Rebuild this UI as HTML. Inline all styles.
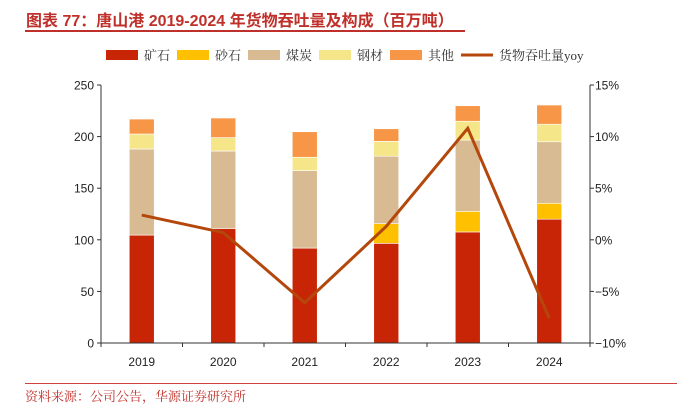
<!DOCTYPE html>
<html><head><meta charset="utf-8">
<style>
html,body{margin:0;padding:0;background:#fff;}
body{width:677px;height:406px;overflow:hidden;position:relative;font-family:"Liberation Sans","Noto Sans CJK SC",sans-serif;}
#title{position:absolute;left:26px;top:7px;font-size:16px;font-weight:bold;color:#C0302A;white-space:nowrap;font-family:"Liberation Sans","Noto Sans CJK SC",sans-serif;}
#tline{position:absolute;left:25px;top:30px;width:440px;height:2px;background:#C0302A;}
#fline{position:absolute;left:25px;top:383px;width:652px;height:1px;background:#D04040;}
#foot{position:absolute;left:25px;top:386px;font-size:13px;color:#C0302A;font-family:"Liberation Serif","Noto Serif CJK SC",serif;}
</style></head><body>
<div id="title">图表 77：唐山港 2019-2024 年货物吞吐量及构成（百万吨）</div>
<div id="tline"></div>
<svg id="chart" width="677" height="406" style="position:absolute;left:0;top:0"></svg>
<div id="fline"></div>
<div id="foot">资料来源：公司公告，华源证券研究所</div>
<script>
const categories=["2019","2020","2021","2022","2023","2024"];
const ore=[104.6,111,92,96.6,107.6,120];
const sand=[0,0,0,19,20,15.4];
const coal=[83.4,75,75,65.4,69,59.6];
const steel=[14.5,13,13,14.4,18.3,17];
const other=[14.5,19,24.7,12.2,15,18.6];
const yoy=[2.4,0.7,-6.1,1.3,10.8,-7.6];
const leftTicks=[0,50,100,150,200,250];
const rightTicks=[-10,-5,0,5,10,15];
const seriesNames=["矿石","砂石","煤炭","钢材","其他"];
const colors=["#C82506","#FFC000","#D9BB93","#F5E68A","#F79646"];
const lineColor="#B4470C";
const NS="http://www.w3.org/2000/svg";
const svg=document.getElementById('chart');
const X0=101,X1=590,Y0=343,Y1=85;
const bw=(X1-X0)/categories.length;
function xC(i){return X0+bw*(i+0.5);}
function yL(v){return Y0-(v-0)/(250-0)*(Y0-Y1);}
function yR(v){return Y0-(v+10)/(25)*(Y0-Y1);}
function mk(t,a){const e=document.createElementNS(NS,t);for(const k in a)e.setAttribute(k,a[k]);svg.appendChild(e);return e;}
const stacks=[ore,sand,coal,steel,other];
categories.forEach((c,i)=>{
  let base=0;
  stacks.forEach((s,k)=>{
    const v=s[i];if(v<=0)return;
    const r=mk('rect',{x:xC(i)-12.5,y:yL(base+v),width:25,height:yL(base)-yL(base+v),fill:colors[k],stroke:'#fff','stroke-width':0.6});
    
    
    base+=v;
  });
});
let ax=mk('line',{x1:X0,y1:Y1,x2:X0,y2:Y0,stroke:'#333','stroke-width':1});

ax=mk('line',{x1:X1,y1:Y1,x2:X1,y2:Y0,stroke:'#333','stroke-width':1});

ax=mk('line',{x1:X0-4,y1:Y0,x2:X1+4,y2:Y0,stroke:'#333','stroke-width':1});

leftTicks.forEach(t=>{
  mk('line',{x1:X0-4,y1:yL(t),x2:X0,y2:yL(t),stroke:'#333'});
  const tx=mk('text',{x:X0-7,y:yL(t)+4.5,'text-anchor':'end','font-size':12,fill:'#222'});
  tx.textContent=t;
  
});
rightTicks.forEach(t=>{
  mk('line',{x1:X1,y1:yR(t),x2:X1+4,y2:yR(t),stroke:'#333'});
  const tx=mk('text',{x:X1+5,y:yR(t)+4.5,'text-anchor':'start','font-size':12,fill:'#222'});
  tx.textContent=(t<0?'\u2212'+(-t):t)+'%';
  
});
for(let i=0;i<=categories.length;i++){mk('line',{x1:X0+bw*i,y1:Y0,x2:X0+bw*i,y2:Y0+4,stroke:'#333'});}
categories.forEach((c,i)=>{
  const tx=mk('text',{x:xC(i),y:366,'text-anchor':'middle','font-size':12,fill:'#222'});
  tx.textContent=c;
  
});
const pl=mk('polyline',{points:yoy.map((v,i)=>xC(i)+','+yR(v)).join(' '),fill:'none',stroke:lineColor,'stroke-width':3,'stroke-linejoin':'miter'});

let lx=106;
seriesNames.forEach((n,k)=>{
  const r=mk('rect',{x:lx,y:50,width:32,height:10,fill:colors[k]});
  
  const t=mk('text',{x:lx+38,y:60,'font-size':13,fill:'#333','font-family':'"Liberation Serif","Noto Serif CJK SC",serif'});
  t.textContent=n;
  
  lx+=71;
});
const ll=mk('line',{x1:461,y1:55,x2:493,y2:55,stroke:lineColor,'stroke-width':3});

const lt=mk('text',{x:499,y:60,'font-size':13,fill:'#333','font-family':'"Liberation Serif","Noto Serif CJK SC",serif'});
lt.textContent='货物吞吐量yoy';

</script>
</body></html>
